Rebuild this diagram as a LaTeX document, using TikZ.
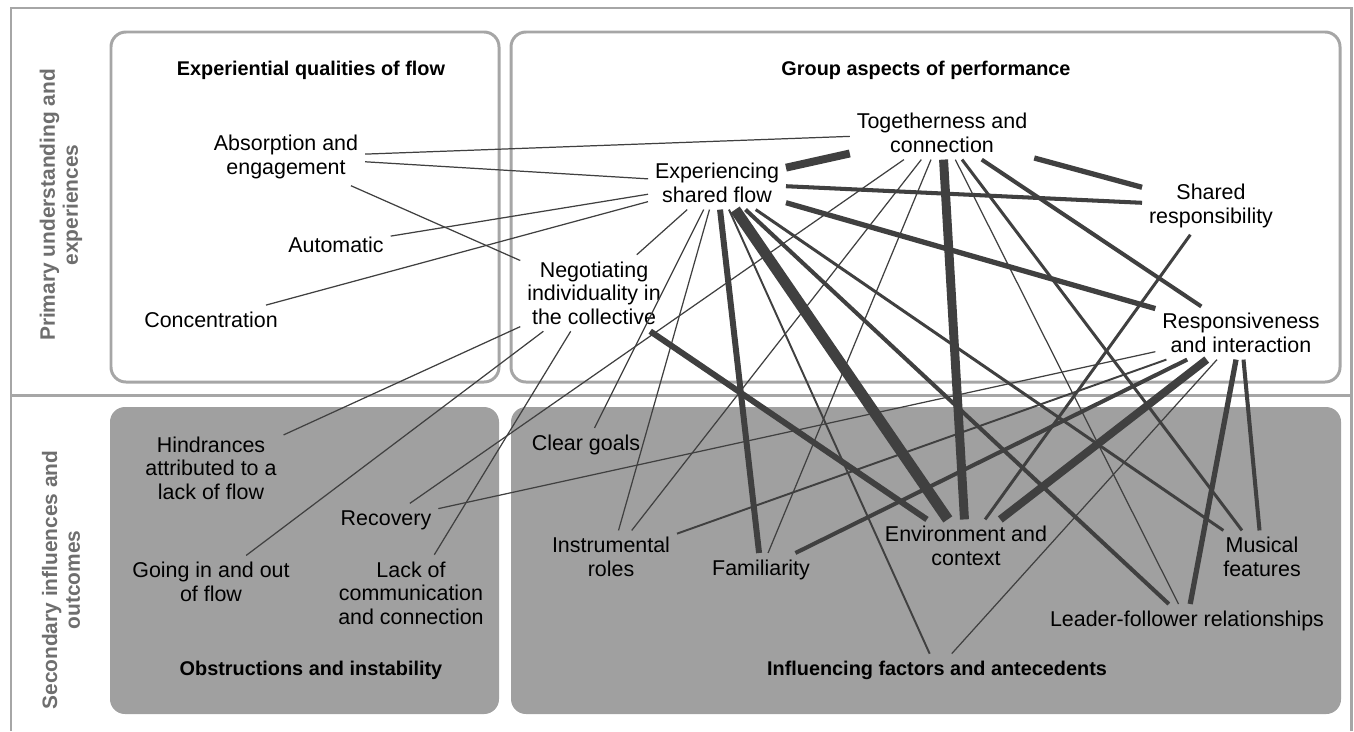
\documentclass[tikz,border=0pt]{standalone}
\usepackage{fontspec}
\setmainfont{Liberation Sans}
\definecolor{linegray}{HTML}{404040}
\definecolor{framegray}{HTML}{A6A6A6}
\definecolor{boxgray}{HTML}{A0A0A0}
\definecolor{sidegray}{HTML}{6E6E6E}

\begin{document}
\begin{tikzpicture}[x=0.02cm, y=-0.02cm,
	lbl/.style={align=center, inner sep=1.5pt, outer sep=2.5pt, font=\fontsize{12.2}{13.3}\selectfont},
	grp/.style={font=\fontsize{11.3}{13}\selectfont\bfseries, inner sep=1.5pt, outer sep=2.5pt},
	side/.style={rotate=90, align=center, text=sidegray, font=\fontsize{11.9}{13}\selectfont\bfseries},
	frame/.style={draw=framegray, line width=1.7pt},
	wbox/.style={draw=framegray, line width=1.7pt, rounded corners=8.5pt, fill=white},
	gbox/.style={fill=boxgray, rounded corners=8.5pt},
	wt1/.style={draw=linegray, line width=0.7pt},
	wt2/.style={draw=linegray, line width=1.1pt},
	wt3/.style={draw=linegray, line width=1.7pt},
	wt4/.style={draw=linegray, line width=2.3pt},
	wt5/.style={draw=linegray, line width=3pt},
	wt6/.style={draw=linegray, line width=3.4pt},
	wt7/.style={draw=linegray, line width=4.5pt},
	wt8/.style={draw=linegray, line width=5.1pt},
	wt9/.style={draw=linegray, line width=6.2pt}]
	\useasboundingbox (0,0) rectangle (1354,731);

	% frame and the four groups
	\draw[frame] (11,731) -- (11,8) -- (1351,8) -- (1351,731);
	\draw[frame] (11,395) -- (1351,395);
	\draw[wbox] (111,32) rectangle (499,382);
	\draw[wbox] (511,32) rectangle (1340,382);
	\fill[gbox] (110,407) rectangle (499,714);
	\fill[gbox] (511,407) rectangle (1341,714);

	\node[side] (prim) at (61,205) {Primary understanding and\\experiences};
	\node[side] (sec) at (61,580) {Secondary influences and\\outcomes};

	\node[grp] (eqf) at (311,70) {Experiential qualities of flow};
	\node[grp] (gap) at (926,70) {Group aspects of performance};
	\node[grp] (obs) at (311,670) {Obstructions and instability};
	\node[grp] (ifa) at (937,670) {Influencing factors and antecedents};

	% themes
	\node[lbl] (abs) at (286,157) {Absorption and\\engagement};
	\node[lbl] (auto) at (336,245) {Automatic};
	\node[lbl] (conc) at (211,320) {Concentration};
	\node[lbl] (esf) at (717,183) {Experiencing\\shared flow};
	\node[lbl] (tog) at (942,133) {Togetherness and\\connection};
	\node[lbl] (sr) at (1211,206) {Shared\\responsibility};
	\node[lbl] (neg) at (594,293) {Negotiating\\individuality in\\the collective};
	\node[lbl] (resp) at (1241,333) {Responsiveness\\and interaction};
	\node[lbl] (hind) at (211,468) {Hindrances\\attributed to a\\lack of flow};
	\node[lbl] (gio) at (211,582) {Going in and out\\of flow};
	\node[lbl] (rec) at (386,520) {Recovery};
	\node[lbl] (lack) at (411,593) {Lack of\\communication\\and connection};
	\node[lbl] (cg) at (586,445) {Clear goals};
	\node[lbl] (ir) at (611,557) {Instrumental\\roles};
	\node[lbl] (fam) at (761,570) {Familiarity};
	\node[lbl] (env) at (966,546) {Environment and\\context};
	\node[lbl] (mus) at (1262,557) {Musical\\features};
	\node[lbl] (lfr) at (1187,621) {Leader-follower relationships};

	% links, thin to thick
	\draw[wt1] (abs) -- (tog);
	\draw[wt1] (abs) -- (esf);
	\draw[wt1] (abs) -- (neg);
	\draw[wt1] (auto) -- (esf);
	\draw[wt1] (conc) -- (esf);
	\draw[wt1] (esf) -- (neg);
	\draw[wt1] (neg) -- (hind);
	\draw[wt1] (neg) -- (gio);
	\draw[wt1] (neg) -- (lack);
	\draw[wt1] (tog) -- (rec);
	\draw[wt1] (resp) -- (rec);
	\draw[wt1] (resp) -- (ifa);
	\draw[wt1] (tog) -- (ir);
	\draw[wt1] (tog) -- (fam);
	\draw[wt1] (tog) -- (lfr);
	\draw[wt1] (esf) -- (cg);
	\draw[wt1] (esf) -- (ir);
	\draw[wt2] (resp) -- (ir);
	\draw[wt2] (esf) -- (ifa);
	\draw[wt3] (esf) -- (mus);
	\draw[wt3] (tog) -- (mus);
	\draw[wt3] (sr) -- (env);
	\draw[wt4] (esf) -- (sr);
	\draw[wt4] (esf) -- (lfr);
	\draw[wt4] (tog) -- (resp);
	\draw[wt4] (resp) -- (fam);
	\draw[wt4] (resp) -- (mus);
	\draw[wt5] (esf) -- (resp);
	\draw[wt5] (resp) -- (lfr);
	\draw[wt5] (tog) -- (sr);
	\draw[wt6] (esf) -- (fam);
	\draw[wt6] (neg) -- (env);
	\draw[wt7] (esf) -- (tog);
	\draw[wt7] (resp) -- (env);
	\draw[wt8] (tog) -- (env);
	\draw[wt9] (esf) -- (env);
\end{tikzpicture}
\end{document}
